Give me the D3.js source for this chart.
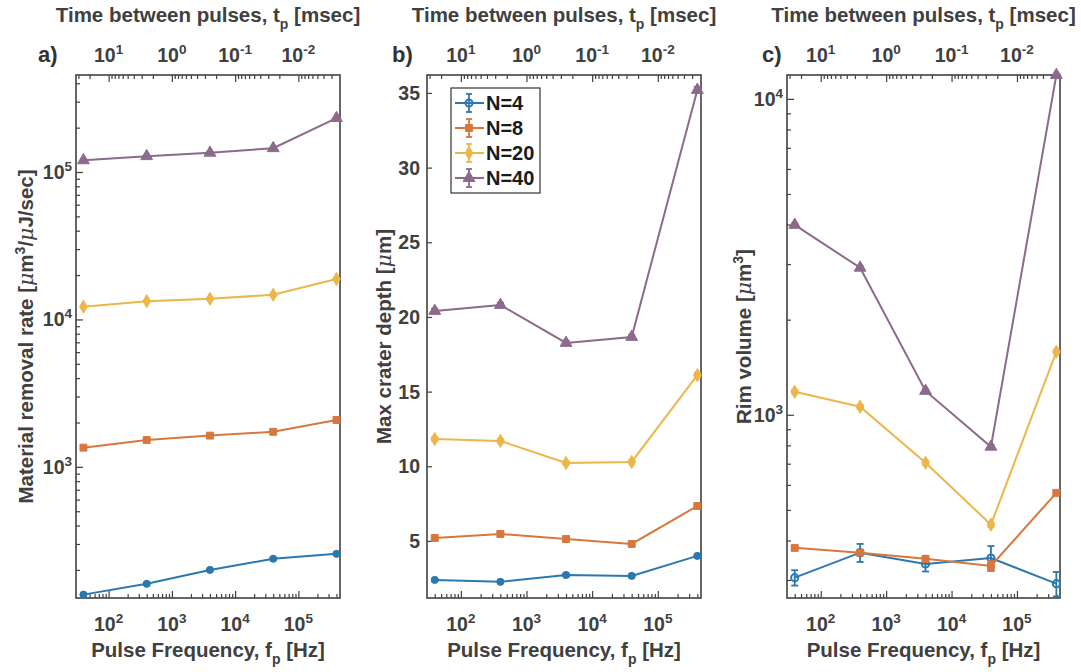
<!DOCTYPE html>
<html>
<head>
<meta charset="utf-8">
<script src="https://cdn.jsdelivr.net/npm/d3@7"></script>
<style>
  body { margin: 0; background: #fff; }
  svg { font-family: "Liberation Sans", Arial, sans-serif; font-weight: bold; }
</style>
</head>
<body>
<div id="wrapper"></div>
<script>
/// Data ///
const freq = [40, 400, 4000, 40000, 400000];            // Hz
const seriesNames = ["N=4", "N=8", "N=20", "N=40"];
const colours = ["#2a78b0", "#d8773d", "#ecb64a", "#8b6a8b"];

// a) material removal rate [um^3/uJ/sec]
const removalRate = [
  [136, 161, 200, 238, 257],
  [1350, 1520, 1630, 1730, 2080],
  [12200, 13300, 13800, 14700, 18800],
  [120000, 128000, 135000, 145000, 232000]
];
const removalErr = [
  [3, 3, 4, 4, 5],
  [15, 20, 20, 25, 30],
  [150, 150, 200, 200, 250],
  [1500, 1500, 2000, 2000, 3000]
];

// b) max crater depth [um]
const craterDepth = [
  [2.39, 2.26, 2.72, 2.66, 4.0],
  [5.2, 5.47, 5.13, 4.8, 7.34],
  [11.83, 11.7, 10.22, 10.29, 16.1],
  [20.4, 20.8, 18.26, 18.66, 35.2]
];
const craterErr = [
  [0.08, 0.08, 0.1, 0.1, 0.1],
  [0.1, 0.1, 0.1, 0.1, 0.1],
  [0.12, 0.12, 0.12, 0.12, 0.15],
  [0.15, 0.15, 0.15, 0.15, 0.2]
];

// c) rim volume [um^3]
const rimVolume = [
  [305, 366, 337, 352, 292],
  [379, 366, 350, 332, 566],
  [1183, 1060, 705, 449, 1583],
  [3990, 2920, 1190, 792, 11900]
];
const rimErr = [
  [17, 24, 18, 32, 26],
  [5, 6, 7, 12, 8],
  [15, 15, 12, 8, 20],
  [40, 30, 15, 10, 100]
];

// tick labels
const freqTickExp = [2, 3, 4, 5];
const timeTickExp = [1, 0, -1, -2];
const depthTicks = [5, 10, 15, 20, 25, 30, 35];

/// Dimensions ///
const width = 1081, height = 672;
const plotTop = 75, plotBottom = 598;
const xDomain = [30.5, 455000];
const axisColour = "#404040";
const tickFont = 19.5, titleFont = 20.5;
const symbols = [d3.symbolCircle, d3.symbolSquare, d3.symbolDiamond, d3.symbolTriangle];
const symbolSizes = [40, 48, 50, 60];

const panels = [
  { left: 76, right: 340, letter: "a)", letterX: 38, log: true, yDomain: [129, 455000],
    yExps: [3, 4, 5], values: removalRate, errs: removalErr, labelX: 33,
    label: ["Material removal rate [", ["μ", "i"], "m", ["3", "sup"], "/", ["μ", "i"], "J/sec]"] },
  { left: 427, right: 701, letter: "b)", letterX: 392, log: false, yDomain: [1.18, 36.2],
    values: craterDepth, errs: craterErr, labelX: 391, legend: true,
    label: ["Max crater depth [", ["μ", "i"], "m]"] },
  { left: 787, right: 1060, letter: "c)", letterX: 762, log: true, yDomain: [263, 11900],
    yExps: [3, 4], values: rimVolume, errs: rimErr, labelX: 751, openCircle: true,
    label: ["Rim volume [", ["μ", "i"], "m", ["3", "sup"], "]"] }
];

const svg = d3.select("#wrapper").append("svg")
  .attr("width", width)
  .attr("height", height);

// minor ticks of a log scale: m*10^k inside the domain
const minorTicks = (domain) => {
  const lo = Math.min(...domain), hi = Math.max(...domain);
  const out = [];
  for (let k = Math.floor(Math.log10(lo)); k <= Math.ceil(Math.log10(hi)); k++) {
    for (let m = 2; m <= 9; m++) {
      const v = m * Math.pow(10, k);
      if (v >= lo && v <= hi) out.push(v);
    }
  }
  return out;
};

// "10" with a superscript exponent
const powerLabel = (sel, exp) => {
  sel.append("tspan").text("10");
  sel.append("tspan").attr("dy", -8).attr("font-size", 13.5).text(exp);
};

const drawTicks = (g, axis, values, size) => {
  const a = g.append("g").call(axis.tickValues(values).tickSize(-size).tickSizeOuter(0).tickFormat(""));
  a.select(".domain").remove();
  a.selectAll("line").attr("stroke", axisColour).attr("stroke-width", 1.2);
};

panels.forEach((p, pi) => {
  const g = svg.append("g");
  const x = d3.scaleLog().domain(xDomain).range([p.left, p.right]);
  // top axis: time between pulses in msec = 1000 / f
  const t = d3.scaleLog().domain([1000 / xDomain[0], 1000 / xDomain[1]]).range([p.left, p.right]);
  const y = (p.log ? d3.scaleLog() : d3.scaleLinear()).domain(p.yDomain).range([plotBottom, plotTop]);

  const clipId = "clip" + pi;
  g.append("clipPath").attr("id", clipId)
    .append("rect").attr("x", p.left).attr("y", plotTop)
    .attr("width", p.right - p.left).attr("height", plotBottom - plotTop);

  /// Axes ///
  const xb = g.append("g").attr("transform", `translate(0,${plotBottom})`);
  drawTicks(xb, d3.axisBottom(x), minorTicks(xDomain), 4);
  drawTicks(xb, d3.axisBottom(x), freqTickExp.map(e => Math.pow(10, e)), 7);
  const xt = g.append("g").attr("transform", `translate(0,${plotTop})`);
  drawTicks(xt, d3.axisTop(t), minorTicks(t.domain()), 4);
  drawTicks(xt, d3.axisTop(t), timeTickExp.map(e => Math.pow(10, e)), 7);

  const yl = g.append("g").attr("transform", `translate(${p.left},0)`);
  if (p.log) {
    drawTicks(yl, d3.axisLeft(y), minorTicks(p.yDomain), 4);
    drawTicks(yl, d3.axisLeft(y), p.yExps.map(e => Math.pow(10, e)), 7);
  } else {
    drawTicks(yl, d3.axisLeft(y), depthTicks, 5);
  }

  g.append("rect")
    .attr("x", p.left).attr("y", plotTop)
    .attr("width", p.right - p.left).attr("height", plotBottom - plotTop)
    .attr("fill", "none").attr("stroke", axisColour).attr("stroke-width", 1.6);

  // tick labels
  freqTickExp.forEach(e => {
    g.append("text").attr("x", x(Math.pow(10, e))).attr("y", 631)
      .attr("text-anchor", "middle").attr("font-size", tickFont).attr("fill", axisColour)
      .call(powerLabel, e);
  });
  timeTickExp.forEach(e => {
    g.append("text").attr("x", t(Math.pow(10, e))).attr("y", 62)
      .attr("text-anchor", "middle").attr("font-size", tickFont).attr("fill", axisColour)
      .call(powerLabel, e);
  });
  if (p.log) {
    p.yExps.forEach(e => {
      g.append("text").attr("x", p.left - 4).attr("y", y(Math.pow(10, e)) + 7)
        .attr("text-anchor", "end").attr("font-size", tickFont).attr("fill", axisColour)
        .call(powerLabel, e);
    });
  } else {
    depthTicks.forEach(v => {
      g.append("text").attr("x", p.left - 7).attr("y", y(v) + 7)
        .attr("text-anchor", "end").attr("font-size", tickFont).attr("fill", axisColour)
        .text(v);
    });
  }

  // axis titles
  const cx = (p.left + p.right) / 2;
  const bt = g.append("text").attr("x", cx).attr("y", 657)
    .attr("text-anchor", "middle").attr("font-size", titleFont).attr("fill", axisColour);
  bt.append("tspan").text("Pulse Frequency, f");
  bt.append("tspan").attr("dy", 7).attr("font-size", 14).text("p");
  bt.append("tspan").attr("dy", -7).text(" [Hz]");

  const tt = g.append("text").attr("x", cx).attr("y", 22)
    .attr("text-anchor", "middle").attr("font-size", titleFont).attr("fill", axisColour);
  tt.append("tspan").text("Time between pulses, t");
  tt.append("tspan").attr("dy", 7).attr("font-size", 14).text("p");
  tt.append("tspan").attr("dy", -7).text(" [msec]");

  const cy = (plotTop + plotBottom) / 2;
  const yt = g.append("text")
    .attr("transform", `translate(${p.labelX},${cy}) rotate(-90)`)
    .attr("text-anchor", "middle").attr("font-size", titleFont).attr("fill", axisColour);
  let shift = 0;
  p.label.forEach(part => {
    if (typeof part === "string") {
      yt.append("tspan").attr("dy", -shift).text(part);
      shift = 0;
    } else if (part[1] === "i") {
      yt.append("tspan").attr("dy", -shift).attr("font-style", "italic")
        .attr("font-weight", "normal").attr("font-family", "'DejaVu Serif', serif").text(part[0]);
      shift = 0;
    } else {
      yt.append("tspan").attr("dy", -8).attr("font-size", 14).text(part[0]);
      shift = -8;
    }
  });

  g.append("text").attr("x", p.letterX).attr("y", 62)
    .attr("font-size", 22).attr("fill", "#333").text(p.letter);

  /// Series ///
  const line = d3.line().x((d, i) => x(freq[i])).y(d => y(d));
  p.values.forEach((vals, si) => {
    const s = g.append("g");
    s.append("path").datum(vals)
      .attr("d", line).attr("fill", "none")
      .attr("stroke", colours[si]).attr("stroke-width", 2)
      .attr("clip-path", `url(#${clipId})`);
    const eb = s.append("g").attr("clip-path", `url(#${clipId})`)
      .attr("stroke", colours[si]).attr("stroke-width", 1.8);
    vals.forEach((v, i) => {
      const e = p.errs[si][i];
      const xx = x(freq[i]), y0 = y(v - e), y1 = y(v + e);
      eb.append("line").attr("x1", xx).attr("x2", xx).attr("y1", y0).attr("y2", y1);
      eb.append("line").attr("x1", xx - 3.5).attr("x2", xx + 3.5).attr("y1", y0).attr("y2", y0);
      eb.append("line").attr("x1", xx - 3.5).attr("x2", xx + 3.5).attr("y1", y1).attr("y2", y1);
    });
    const open = si === 0 && p.openCircle;
    s.selectAll(".mk").data(vals).join("path")
      .attr("transform", (d, i) => `translate(${x(freq[i])},${y(d)})`)
      .attr("d", d3.symbol(symbols[si], symbolSizes[si]))
      .attr("fill", open ? "none" : colours[si])
      .attr("stroke", colours[si]).attr("stroke-width", open ? 2 : 1);
  });

  /// Legend ///
  if (p.legend) {
    const lg = svg.append("g");
    lg.append("rect").attr("x", 451).attr("y", 88).attr("width", 89).attr("height", 105)
      .attr("fill", "#fff").attr("stroke", "#333").attr("stroke-width", 1.2);
    seriesNames.forEach((name, si) => {
      const ly = 103 + si * 25;
      lg.append("line").attr("x1", 455).attr("x2", 484).attr("y1", ly).attr("y2", ly)
        .attr("stroke", colours[si]).attr("stroke-width", 2);
      lg.append("line").attr("x1", 469).attr("x2", 469).attr("y1", ly - 9).attr("y2", ly + 9)
        .attr("stroke", colours[si]).attr("stroke-width", 1.8);
      [ly - 9, ly + 9].forEach(cy2 => lg.append("line")
        .attr("x1", 466).attr("x2", 472).attr("y1", cy2).attr("y2", cy2)
        .attr("stroke", colours[si]).attr("stroke-width", 1.8));
      lg.append("path").attr("transform", `translate(469,${ly})`)
        .attr("d", d3.symbol(symbols[si], symbolSizes[si]))
        .attr("fill", si === 0 ? "none" : colours[si])
        .attr("stroke", colours[si]).attr("stroke-width", si === 0 ? 2 : 1);
      lg.append("text").attr("x", 486).attr("y", ly + 7)
        .attr("font-size", 20).attr("fill", "#1a1a1a").text(name);
    });
  }
});
</script>
</body>
</html>
